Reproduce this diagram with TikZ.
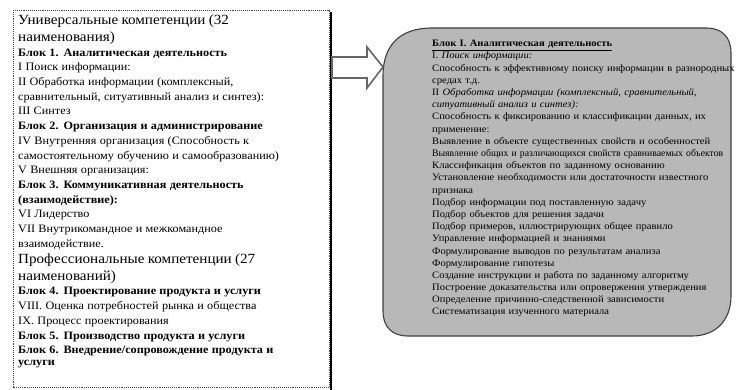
\documentclass[tikz,border=0pt]{standalone}
\usepackage{fontspec}
\usetikzlibrary{calc}
\setmainfont{Liberation Serif}
\newfontfamily\lfont[FakeStretch=1.08]{Liberation Serif}
\newfontfamily\rfont[FakeStretch=1.08]{Liberation Serif}
\begin{document}
\begin{tikzpicture}[x=1pt,y=-1pt,
  framebox/.style={draw=black!70, densely dotted, line width=0.9pt},
  roundbox/.style={draw=black!75, line width=1.1pt, fill=black!28},
  blockarrow/.style={draw=black!60, line width=1.6pt, fill=white, line join=miter},
  txt/.style={inner sep=0pt, anchor=north west, align=left}]
\useasboundingbox (0,0) rectangle (738,390);
\clip (0,0) rectangle (738,390);
\fill[white] (0,0) rectangle (738,390);
% left box
\draw[framebox] (13,10) rectangle (329,387);
\draw[line width=1.3pt] (331,12) -- (331,390);
\coordinate (leftbox) at (331,67);
% right box
\draw[roundbox] (383,76) .. controls (383,45) and (400,28) .. (432,28)
  -- (706,28) .. controls (722,28) and (731,37) .. (731,53)
  -- (731,296) .. controls (731,320) and (716,336) .. (692,336)
  -- (408,336) .. controls (392,336) and (383,327) .. (383,311) -- cycle;
\coordinate (rightbox) at (383,67);
% block arrow
\draw[blockarrow] ($(leftbox)+(1,-10)$) -- (367,57) -- (367,47) -- (rightbox)
  -- (367,88) -- (367,78) -- ($(leftbox)+(1,11)$) -- cycle;
% left text
\node[txt, text width=312pt] (lefttext) at (18,15) {\lfont
  \fontsize{14}{16.5}\selectfont Универсальные компетенции (32\par
  наименования)\par
  \fontsize{11.3}{14.7}\selectfont
  \textbf{Блок 1. Аналитическая деятельность}\par
  I  Поиск информации:\par
  II Обработка информации (комплексный,\par
  сравнительный, ситуативный анализ и синтез):\par
  III Синтез\par
  \textbf{Блок 2. Организация  и администрирование}\par
  IV Внутренняя организация (Способность к\par
  самостоятельному обучению и самообразованию)\par
  V Внешняя организация:\par
  \textbf{Блок 3. Коммуникативная деятельность}\par
  \textbf{(взаимодействие):}\par
  VI Лидерство\par
  VII Внутрикомандное и межкомандное\par
  взаимодействие.\par
  \fontsize{14}{16.5}\selectfont Профессиональные компетенции (27\par
  наименований)\par
  \fontsize{11.3}{14.7}\selectfont
  \textbf{Блок 4. Проектирование продукта и услуги}\par
  VIII. Оценка потребностей рынка и общества\par
  IX. Процесс проектирования\par
  \textbf{Блок 5. Производство продукта и услуги}\par
  \textbf{Блок 6. Внедрение/сопровождение продукта и}\par
  \textbf{услуги}};
% right text
\node[txt, text width=330pt] (righttext) at (432,40) {\rfont
  \fontsize{9.8}{12.2}\selectfont
  \textbf{\underline{Блок I. Аналитическая деятельность}}\par
  I. \textit{Поиск информации:}\par
  Способность к эффективному поиску информации в разнородных\par
  средах т.д.\par
  II \textit{Обработка информации (комплексный, сравнительный,}\par
  \textit{ситуативный анализ и синтез):}\par
  Способность к фиксированию и классификации данных, их\par
  применение:\par
  Выявление в объекте существенных свойств и особенностей\par
  \scalebox{0.92}[1]{Выявление общих и различающихся свойств сравниваемых объектов}\par
  Классификация объектов по заданному основанию\par
  Установление необходимости или достаточности известного\par
  признака\par
  Подбор информации под поставленную задачу\par
  Подбор объектов для решения задачи\par
  Подбор примеров, иллюстрирующих общее правило\par
  Управление информацией и знаниями\par
  Формулирование выводов по результатам анализа\par
  Формулирование гипотезы\par
  Создание инструкции и работа по заданному алгоритму\par
  Построение доказательства или опровержения утверждения\par
  Определение причинно-следственной зависимости\par
  Систематизация изученного материала};
\end{tikzpicture}
\end{document}
